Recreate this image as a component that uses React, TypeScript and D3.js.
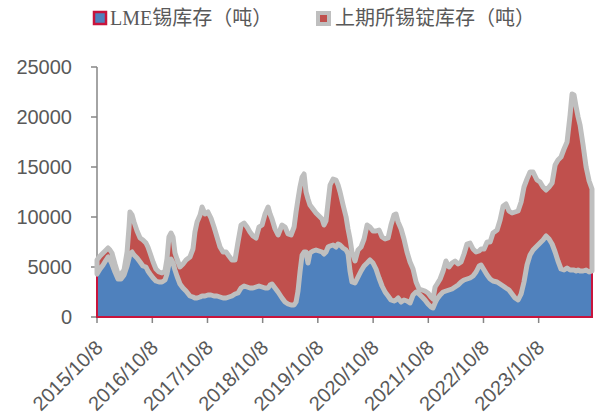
import React from "react";
import * as d3 from "d3";

const dates: string[] = [
  "2015-10-08","2015-10-28","2015-11-17","2015-12-07","2015-12-20","2016-01-02","2016-01-15","2016-02-04","2016-02-24","2016-03-15",
  "2016-04-04","2016-04-24","2016-05-07","2016-05-13","2016-05-27","2016-06-09","2016-06-29","2016-07-19","2016-08-07","2016-08-27",
  "2016-09-09","2016-09-23","2016-10-13","2016-11-01","2016-11-21","2016-12-11","2016-12-31","2017-01-13","2017-01-26","2017-02-09",
  "2017-02-22","2017-03-07","2017-03-20","2017-04-09","2017-04-29","2017-05-19","2017-06-14","2017-07-04","2017-07-17","2017-07-31",
  "2017-08-20","2017-09-02","2017-09-22","2017-10-11","2017-10-31","2017-11-20","2017-12-10","2017-12-30","2018-01-19","2018-02-08",
  "2018-02-27","2018-03-19","2018-04-08","2018-04-28","2018-05-18","2018-06-07","2018-06-27","2018-07-16","2018-08-05","2018-08-25",
  "2018-09-14","2018-10-04","2018-10-24","2018-11-13","2018-11-26","2018-12-09","2018-12-29","2019-01-18","2019-02-13","2019-03-05",
  "2019-03-25","2019-04-14","2019-05-04","2019-05-17","2019-05-30","2019-06-12","2019-06-26","2019-07-09","2019-07-22","2019-08-04",
  "2019-08-17","2019-09-06","2019-09-26","2019-10-16","2019-11-05","2019-11-18","2019-12-01","2019-12-15","2019-12-28","2020-01-17",
  "2020-02-05","2020-02-19","2020-03-03","2020-03-23","2020-04-12","2020-04-25","2020-05-08","2020-05-21","2020-06-10","2020-06-30",
  "2020-07-20","2020-08-09","2020-08-29","2020-09-17","2020-10-07","2020-10-27","2020-11-16","2020-12-06","2020-12-26","2021-01-15",
  "2021-02-03","2021-02-23","2021-03-08","2021-03-22","2021-04-11","2021-04-30","2021-05-20","2021-06-09","2021-06-29","2021-07-19",
  "2021-08-08","2021-08-28","2021-09-16","2021-10-06","2021-10-26","2021-11-08","2021-11-22","2021-12-05","2021-12-25","2022-01-14",
  "2022-02-02","2022-02-22","2022-03-14","2022-04-03","2022-04-23","2022-05-13","2022-06-01","2022-06-21","2022-07-11","2022-07-31",
  "2022-08-20","2022-09-09","2022-09-22","2022-10-12","2022-11-01","2022-11-21","2022-12-10","2023-01-06","2023-01-26","2023-02-15",
  "2023-03-06","2023-03-26","2023-04-15","2023-05-05","2023-05-25","2023-06-14","2023-07-03","2023-07-23","2023-08-12","2023-09-01",
  "2023-09-27","2023-10-17","2023-11-06","2023-11-26","2023-12-16","2024-01-05","2024-01-25","2024-02-13","2024-03-04","2024-03-24",
  "2024-04-13","2024-05-03","2024-05-16","2024-05-29","2024-06-12","2024-06-25","2024-07-08","2024-07-28","2024-08-17","2024-09-06",
  "2024-09-25"
];

const lmeStock: number[] = [
  4300,4800,5200,5700,6000,5700,5300,4500,3800,3800,
  4200,5100,5900,6300,6500,6200,5900,5500,5100,5000,
  4600,4300,3900,3600,3500,3500,3700,4300,5300,5800,
  5400,4700,4100,3300,2900,2600,2100,2000,1900,1900,
  2000,2100,2100,2200,2200,2100,2100,2000,1900,1900,
  2000,2100,2300,2400,2900,3100,3000,2900,2900,3000,
  3100,3000,2900,2900,3200,3300,2900,2500,1900,1500,
  1300,1200,1200,1500,2600,4500,6200,6500,6500,5400,
  6400,6600,6700,6600,6500,6300,6500,7000,7100,7200,
  7000,7300,7200,6900,6700,6300,4600,3500,3400,4000,
  4600,5100,5400,5700,5400,4800,3900,3100,2500,2100,
  1700,1600,1700,1900,1500,1700,1600,1400,2200,2500,
  2300,2000,1700,1300,1000,900,1400,1800,2200,2500,
  2600,2700,2800,3000,3200,3500,3700,3800,3900,4100,
  4500,5100,5200,4700,4200,3800,3600,3500,3300,3100,
  2900,2700,2300,1900,1700,2300,3500,5200,6200,6700,
  7100,7400,7700,8100,7800,7300,6500,5600,4800,4700,
  4900,4700,4700,4700,4600,4700,4600,4600,4700,4500,
  4600
];

const shfeStock: number[] = [
  1400,1300,1200,1000,900,1000,1100,800,500,500,
  500,1400,3100,4200,3700,3300,2700,2400,2600,2400,
  2400,2100,1600,1200,1000,900,900,1500,2700,2600,
  2600,1700,1700,1700,2400,3100,3900,4800,6600,7600,
  8200,8900,8200,8300,7700,6900,5900,5000,4600,4600,
  4100,3600,3400,5100,6300,6300,6000,5600,5200,4900,
  5900,6200,7400,8100,7100,6500,5900,5700,7300,7500,
  7000,7000,7800,9000,9200,8500,7800,7800,6000,6400,
  4800,4200,3700,3500,3300,2900,3100,4500,6100,6600,
  6700,5900,5300,4300,3300,2500,3200,3000,2200,2700,
  2400,2700,3800,3300,3200,3800,4800,4900,5300,5800,
  7500,8600,8600,7600,7300,6100,4900,4100,2600,1000,
  500,700,900,1100,1000,900,1600,1500,1600,2100,
  3000,2300,2600,2600,2100,2000,2600,3500,3500,2700,
  2000,1500,1600,2100,3300,3700,4800,5200,6400,8000,
  8400,7900,8100,8600,8900,9200,9500,8600,8300,7800,
  6600,6100,5300,4600,5200,6100,8700,10100,11200,12100,
  12600,15500,17600,17500,16400,15300,14600,12600,10300,9100,
  8200
];

const yTicks: number[] = [0, 5000, 10000, 15000, 20000, 25000];
const xTickLabels: string[] = [
  "2015/10/8","2016/10/8","2017/10/8","2018/10/8","2019/10/8",
  "2020/10/8","2021/10/8","2022/10/8","2023/10/8"
];
const seriesNames: string[] = ["LME锡库存（吨）", "上期所锡锭库存（吨）"];

const BLUE = "#4F81BD";
const RED = "#C0504D";
const GRAY = "#BFBFBF";
const CRIMSON = "#C8143C";
const AXIS = "#868686";
const TEXT = "#595959";

export default function App() {
  const W = 595, H = 414;
  const left = 97, right = 592, top = 67, bottom = 317;
  const parse = d3.timeParse("%Y-%m-%d");
  const data = dates.map((d, i) => ({
    date: parse(d) as Date,
    lme: lmeStock[i],
    shfe: shfeStock[i],
  }));
  const x = d3.scaleTime()
    .domain([data[0].date, data[data.length - 1].date])
    .range([left, right]);
  const y = d3.scaleLinear().domain([0, 25000]).range([bottom, top]);

  const lmeArea = d3.area<any>()
    .x((d) => x(d.date))
    .y0(y(0))
    .y1((d) => y(d.lme));
  const shfeArea = d3.area<any>()
    .x((d) => x(d.date))
    .y0((d) => y(d.lme))
    .y1((d) => y(d.lme + d.shfe));

  const tickDates = xTickLabels.map((s) => d3.timeParse("%Y/%m/%d")(s) as Date);
  const fontSans = "'Liberation Sans', Arial, sans-serif";
  const fontLegend = "'Liberation Serif', 'Noto Sans CJK SC', serif";

  return (
    <svg width={W} height={H} style={{ position: "absolute", left: 0, top: 0, background: "#fff" }}>
      {/* legend */}
      <g>
        <rect x={94} y={12} width={12} height={12} fill={BLUE} stroke={CRIMSON} strokeWidth={2.5} />
        <text x={110} y={25} fontSize={20} fill={TEXT} fontFamily={fontLegend}>{seriesNames[0]}</text>
        <rect x={318} y={13} width={11} height={11} fill={RED} stroke={GRAY} strokeWidth={4} />
        <text x={335} y={25} fontSize={20} fill={TEXT} fontFamily={fontLegend}>{seriesNames[1]}</text>
      </g>
      {/* y axis */}
      <line x1={left} x2={left} y1={top} y2={bottom} stroke={AXIS} strokeWidth={1.5} />
      {yTicks.map((t) => (
        <g key={t}>
          <line x1={left - 6} x2={left} y1={y(t)} y2={y(t)} stroke={AXIS} strokeWidth={1.5} />
          <text x={72} y={y(t)} dy="0.35em" textAnchor="end" fontSize={20} fill={TEXT} fontFamily={fontSans}>{t}</text>
        </g>
      ))}
      {/* x axis */}
      <line x1={left} x2={right} y1={bottom} y2={bottom} stroke={AXIS} strokeWidth={1.5} />
      {tickDates.map((d, i) => (
        <g key={i}>
          <line x1={x(d)} x2={x(d)} y1={bottom} y2={bottom + 6} stroke={AXIS} strokeWidth={1.5} />
          <text
            transform={`translate(${x(d) + 7},${bottom + 32}) rotate(-45)`}
            textAnchor="end"
            fontSize={20}
            fill={TEXT}
            fontFamily={fontSans}
          >{xTickLabels[i]}</text>
        </g>
      ))}
      {/* areas */}
      <path d={lmeArea(data) || ""} fill={BLUE} stroke={CRIMSON} strokeWidth={2} />
      <path d={shfeArea(data) || ""} fill={RED} stroke={GRAY} strokeWidth={5} strokeLinejoin="round" />
    </svg>
  );
}
